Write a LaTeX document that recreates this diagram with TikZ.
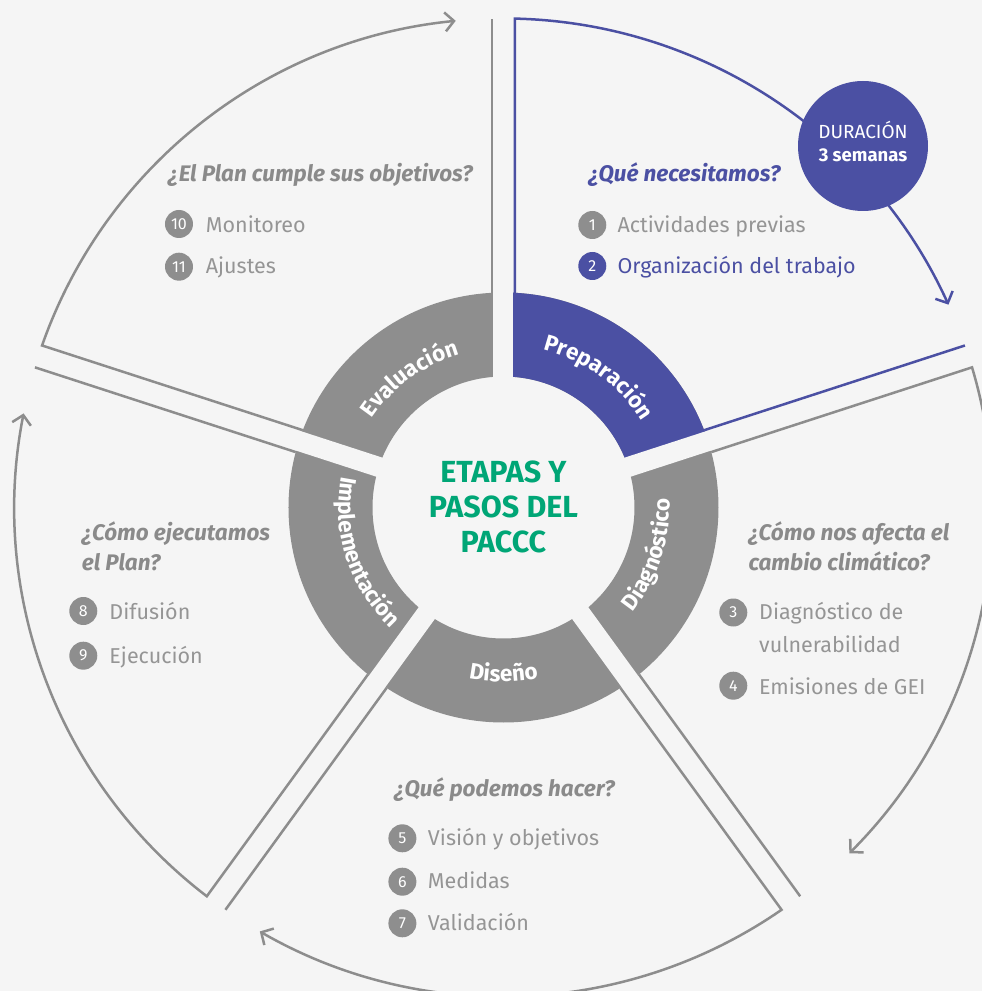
\documentclass[tikz,border=0pt]{standalone}
\usepackage{fontspec}
\setmainfont{Fira Sans}
\usetikzlibrary{arrows.meta,decorations.text,calc}
\definecolor{bgc}{HTML}{F5F5F5}
\definecolor{ringgray}{HTML}{8E8E8E}
\definecolor{linegray}{HTML}{8D8D8D}
\definecolor{txtgray}{HTML}{959595}
\definecolor{qgray}{HTML}{8A8A8A}
\definecolor{pblue}{HTML}{4B50A3}
\definecolor{pgreen}{HTML}{00A676}
\newcommand{\fsz}[1]{\fontsize{#1}{#1}\selectfont}
\begin{document}
\begin{tikzpicture}[x=1pt,y=1pt,
  wline/.style={line width=2.5pt},
  warrow/.style={line width=2.5pt, -{Straight Barb[length=9pt,width=19pt]}},
  numc/.style={circle, fill=ringgray, text=white, minimum size=28pt, inner sep=0pt, font=\fsz{16}},
  item/.style={anchor=base west, text=txtgray, font=\fsz{21.5}, inner sep=0pt},
  question/.style={anchor=base west, text=qgray, font=\bfseries\itshape\fsz{22.5}, inner sep=0pt},
  title/.style={anchor=base, text=pgreen, font=\bfseries\fsz{30.5}, inner sep=0pt},
  ringlbl/.style={decorate, decoration={text along path, text align=center, text color=white}},
]
% background and bounding box
\fill[bgc] (-503.5,-483.5) rectangle (478.5,507.5);
\useasboundingbox (-503.5,-483.5) rectangle (478.5,507.5);

% ring
\fill[ringgray, even odd rule] (0,0) circle[radius=215] (0,0) circle[radius=131];
\fill[pblue] (18:131) arc[start angle=18,end angle=90,radius=131] -- (90:215) arc[start angle=90,end angle=18,radius=215] -- cycle;
\foreach \a in {90,18,-54,-126,162} \draw[bgc, line width=20pt] (0,0) -- (\a:240);

% outer wedges: lo, hi, arrow end angle, colour
\foreach \lo/\hi/\e/\c in {90/162/95.6/linegray, 18/90/24.5/pblue, -54/18/-45/linegray, -126/-54/-119.9/linegray, 162/234/168.9/linegray}{
  \draw[wline, \c] ($(\lo:214.7)+(\lo+90:11.5)$) -- ($(\lo:488.9)+(\lo+90:11.5)$);
  \draw[warrow, \c] ($(\hi:214.7)+(\hi-90:11.5)$) -- ($(\hi:488.9)+(\hi-90:11.5)$)
     arc[start angle=\hi-1.347, end angle=\e, radius=489];
}

% duration badge
\node[circle, fill=pblue, minimum size=130pt, inner sep=0pt] (dur) at (359.5,361.5) {};
\node[anchor=center, text=white, font=\fsz{19}] (durA) at (359.5,377.5) {DURACIÓN};
\node[anchor=center, text=white, font=\bfseries\fsz{18.5}] (durB) at (359.5,352.5) {3 semanas};

% ring labels
\path[ringlbl, decoration={text={|\bfseries\fsz{22.5}|Evaluación}}] (166:159) arc[start angle=166, end angle=86, radius=159];
\path[ringlbl, decoration={text={|\bfseries\fsz{22.5}|Preparación}}] (94:163) arc[start angle=94, end angle=14, radius=163];
\path[ringlbl, decoration={text={|\bfseries\fsz{22.5}|Diagnóstico}}] (-58:166) arc[start angle=-58, end angle=22, radius=166];
\path[ringlbl, decoration={text={|\bfseries\fsz{22.5}|Diseño}}] (-130:174) arc[start angle=-130, end angle=-50, radius=174];
\path[ringlbl, decoration={text={|\bfseries\fsz{22.5}|Implementación}}] (158:165) arc[start angle=158, end angle=238, radius=165];

% centre title
\node[title] (t1) at (0,24.8) {ETAPAS Y};
\node[title] (t2) at (0,-10.2) {PASOS DEL};
\node[title] (t3) at (0,-45.2) {PACCC};

% Evaluacion
\node[question] (q5) at (-335.5,325.8) {¿El Plan cumple sus objetivos?};
\node[numc] (n10) at (-324.5,283.5) {10};
\node[item] (i10) at (-297.8,275.2) {Monitoreo};
\node[numc] (n11) at (-324.5,240.8) {11};
\node[item] (i11) at (-297.8,233.5) {Ajustes};

% Preparacion
\node[question, text=pblue] (q1) at (84.8,325.8) {¿Qué necesitamos?};
\node[numc] (n1) at (88.8,282.5) {1};
\node[item] (i1) at (113.8,275.2) {Actividades previas};
\node[numc, fill=pblue] (n2) at (88.8,241.5) {2};
\node[item, text=pblue] (i2) at (113.8,233.5) {Organización del trabajo};

% Diagnostico
\node[question] (q2a) at (244.8,-32.5) {¿Cómo nos afecta el};
\node[question] (q2b) at (244.8,-62.9) {cambio climático?};
\node[numc] (n3) at (229.8,-105) {3};
\node[item] (i3a) at (255.5,-112.1) {Diagnóstico de};
\node[item] (i3b) at (255.5,-145) {vulnerabilidad};
\node[numc] (n4) at (229.8,-178.2) {4};
\node[item] (i4) at (255.5,-187.1) {Emisiones de GEI};

% Diseno
\node[question] (q3) at (-109.2,-289.2) {¿Qué podemos hacer?};
\node[numc] (n5) at (-101.1,-330.8) {5};
\node[item] (i5) at (-75.7,-338.2) {Visión y objetivos};
\node[numc] (n6) at (-101.1,-374.2) {6};
\node[item] (i6) at (-75.7,-380.8) {Medidas};
\node[numc] (n7) at (-101.1,-415.8) {7};
\node[item] (i7) at (-75.7,-423.2) {Validación};

% Implementacion
\node[question] (q4a) at (-421.8,-32.9) {¿Cómo ejecutamos};
\node[question] (q4b) at (-421.8,-63.2) {el Plan?};
\node[numc] (n8) at (-420.2,-103.5) {8};
\node[item] (i8) at (-394.2,-112.1) {Difusión};
\node[numc] (n9) at (-420.2,-148.2) {9};
\node[item] (i9) at (-394.2,-156.1) {Ejecución};
\end{tikzpicture}
\end{document}
